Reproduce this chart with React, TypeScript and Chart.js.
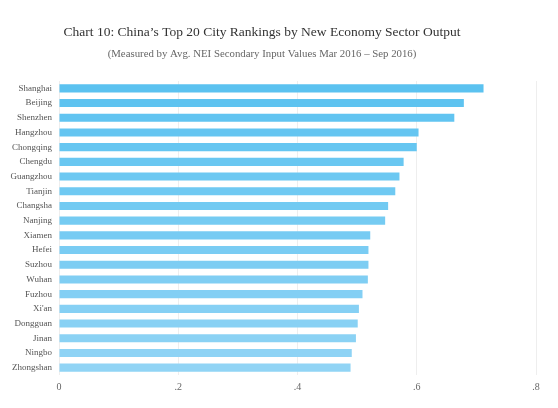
import React, { useEffect, useRef } from "react";
import { Chart, registerables } from "chart.js";

Chart.register(...registerables);

const cities = [
  "Shanghai", "Beijing", "Shenzhen", "Hangzhou", "Chongqing", "Chengdu", "Guangzhou",
  "Tianjin", "Changsha", "Nanjing", "Xiamen", "Hefei", "Suzhou", "Wuhan", "Fuzhou",
  "Xi'an", "Dongguan", "Jinan", "Ningbo", "Zhongshan",
];
const values = [
  0.712, 0.679, 0.663, 0.603, 0.600, 0.578, 0.571, 0.564, 0.552, 0.547, 0.522,
  0.519, 0.519, 0.518, 0.509, 0.503, 0.501, 0.498, 0.491, 0.489,
];
const xTicks = [0, 0.2, 0.4, 0.6, 0.8];
const titleText = "Chart 10: China\u2019s Top 20 City Rankings by New Economy Sector Output";
const subtitleText = "(Measured by Avg. NEI Secondary Input Values Mar 2016 \u2013 Sep 2016)";

const SERIF = "'Liberation Serif', 'DejaVu Serif', serif";

function lerpColor(a: number[], b: number[], t: number) {
  const c = a.map((v, i) => Math.round(v + (b[i] - v) * t));
  return `rgb(${c[0]},${c[1]},${c[2]})`;
}

export default function App() {
  const ref = useRef<HTMLCanvasElement | null>(null);

  useEffect(() => {
    document.body.style.margin = "0";
    const el = ref.current;
    if (!el) return;
    const top = [91, 194, 240];
    const bottom = [145, 212, 245];
    const colors = values.map((_, i) => lerpColor(top, bottom, i / (values.length - 1)));

    const titlePlugin = {
      id: "customTitle",
      afterDraw(chart: any) {
        const ctx = chart.ctx;
        ctx.save();
        ctx.textAlign = "center";
        ctx.textBaseline = "middle";
        ctx.fillStyle = "#333333";
        ctx.font = `13.5px ${SERIF}`;
        ctx.fillText(titleText, 262, 32);
        ctx.fillStyle = "#666666";
        ctx.font = `10.8px ${SERIF}`;
        ctx.fillText(subtitleText, 262, 54);
        ctx.restore();
      },
    };

    const chart = new Chart(el, {
      type: "bar",
      data: {
        labels: cities,
        datasets: [
          {
            data: values,
            backgroundColor: colors,
            borderWidth: 0,
            barPercentage: 0.55,
            categoryPercentage: 1,
          },
        ],
      },
      options: {
        indexAxis: "y",
        animation: false,
        responsive: false,
        maintainAspectRatio: false,
        layout: { padding: { left: 0, right: 22, top: 81, bottom: 13 } },
        plugins: {
          legend: { display: false },
          tooltip: { enabled: false },
          title: { display: false },
        },
        scales: {
          x: {
            min: 0,
            max: 0.8,
            afterBuildTicks(scale: any) {
              scale.ticks = xTicks.map((v) => ({ value: v }));
            },
            afterFit(scale: any) {
              scale.height = 20;
            },
            grid: { color: "#eeeeee", drawTicks: false, lineWidth: 1 },
            border: { display: false },
            ticks: {
              padding: 6,
              color: "#666666",
              font: { family: SERIF, size: 10 },
              callback: (v: any) => {
                const n = Number(Number(v).toFixed(1));
                return n === 0 ? "0" : String(n).replace(/^0/, "");
              },
            },
          },
          y: {
            afterFit(scale: any) {
              scale.width = 59;
            },
            grid: { display: false, drawTicks: false },
            border: { display: false },
            ticks: {
              padding: 7,
              color: "#555555",
              autoSkip: false,
              font: { family: SERIF, size: 9 },
            },
          },
        },
      },
      plugins: [titlePlugin],
    } as any);
    return () => chart.destroy();
  }, []);

  return (
    <div style={{ width: 558, height: 408, background: "#ffffff" }}>
      <canvas ref={ref} width={558} height={408} style={{ width: 558, height: 408 }} />
    </div>
  );
}
